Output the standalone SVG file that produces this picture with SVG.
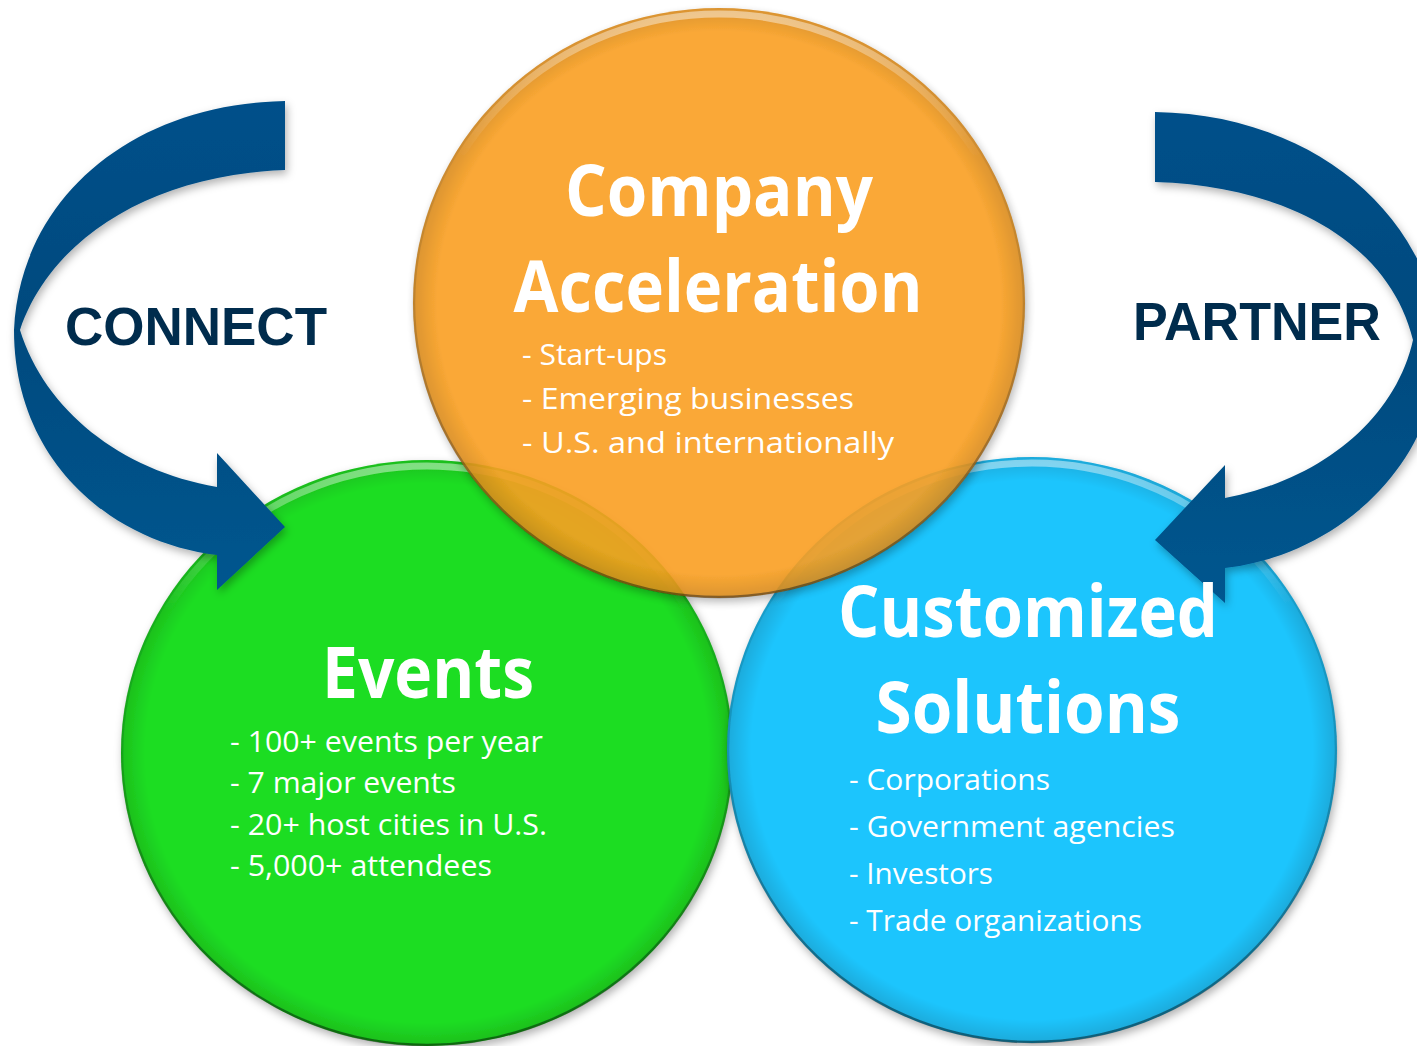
<svg xmlns="http://www.w3.org/2000/svg" width="1417" height="1046" viewBox="0 0 1417 1046">
<style>
.title{font-family:"Open Sans","Noto Sans",sans-serif;font-weight:700;font-size:72px;fill:#ffffff;text-anchor:middle}
.item{font-family:"Open Sans","Noto Sans",sans-serif;font-weight:400;font-size:29px;fill:#ffffff}
.verb{font-family:"Liberation Sans",Arial,sans-serif;font-weight:700;font-size:54px;fill:#002c4d}
.rimHi{fill:none;stroke:url(#hiGrad);stroke-width:7}
.rimDk{fill:none;stroke:url(#dkGrad);stroke-width:2.5}
.arrow{fill:url(#arrowGrad);filter:url(#shadow)}
</style>
<defs>
<filter id="shadow" x="-20%" y="-20%" width="140%" height="140%">
<feDropShadow dx="2" dy="4" stdDeviation="4" flood-color="#000" flood-opacity="0.3"/>
</filter>
<linearGradient id="hiGrad" x1="0" y1="0" x2="0" y2="1">
<stop offset="0" stop-color="#fff" stop-opacity="0.45"/>
<stop offset="0.25" stop-color="#fff" stop-opacity="0"/>
</linearGradient>
<linearGradient id="dkGrad" x1="0" y1="0" x2="0" y2="1">
<stop offset="0" stop-color="#000" stop-opacity="0"/>
<stop offset="0.5" stop-color="#000" stop-opacity="0.15"/>
<stop offset="1" stop-color="#000" stop-opacity="0.45"/>
</linearGradient>
<radialGradient id="edge" cx="0.5" cy="0.5" r="0.5">
<stop offset="0.92" stop-color="#000" stop-opacity="0"/>
<stop offset="1" stop-color="#000" stop-opacity="0.14"/>
</radialGradient>
<linearGradient id="arrowGrad" x1="0" y1="0" x2="0" y2="1">
<stop offset="0" stop-color="#00508a"/>
<stop offset="0.45" stop-color="#034a7e"/>
<stop offset="1" stop-color="#05568f"/>
</linearGradient>
</defs>

<g id="node-events" filter="url(#shadow)">
<ellipse cx="427" cy="753" rx="306" ry="293" fill="#1edd22"/>
<ellipse cx="427" cy="753" rx="306" ry="293" fill="url(#edge)"/>
<ellipse cx="427" cy="753" rx="300" ry="287" class="rimHi"/>
<ellipse cx="427" cy="753" rx="305" ry="292" class="rimDk"/>
</g>

<g id="node-solutions" filter="url(#shadow)">
<ellipse cx="1032" cy="750" rx="305" ry="293" fill="#1fc5fd"/>
<ellipse cx="1032" cy="750" rx="305" ry="293" fill="url(#edge)"/>
<ellipse cx="1032" cy="750" rx="299" ry="287" class="rimHi"/>
<ellipse cx="1032" cy="750" rx="304" ry="292" class="rimDk"/>
</g>

<g id="node-acceleration" opacity="0.9" filter="url(#shadow)">
<ellipse cx="719" cy="303" rx="306" ry="295" fill="#fa9f20"/>
<ellipse cx="719" cy="303" rx="306" ry="295" fill="url(#edge)"/>
<ellipse cx="719" cy="303" rx="300" ry="289" class="rimHi"/>
<ellipse cx="719" cy="303" rx="305" ry="294" class="rimDk"/>
</g>

<g id="connectors">
<path id="arrow-connect" class="arrow" d="M 285 101 C 130 104 20 200 14 330 C 14 460 110 542 217 555 L 217 590 L 285 527 L 217 453 L 217 487 C 120 470 45 410 20 330 C 50 240 150 175 285 170 Z"/>
<path id="arrow-partner" class="arrow" d="M 1155 112 C 1300 114 1420 200 1440 330 C 1445 460 1340 555 1225 568 L 1225 603 L 1155 540 L 1225 465 L 1225 498 C 1320 480 1395 420 1413 340 C 1390 245 1290 186 1155 182 Z"/>
</g>

<g id="labels-acceleration">
<text class="title" x="719" y="216" textLength="308" lengthAdjust="spacingAndGlyphs">Company</text>
<text class="title" x="718" y="312" textLength="409" lengthAdjust="spacingAndGlyphs">Acceleration</text>
<text class="item" x="522" y="365" textLength="145" lengthAdjust="spacingAndGlyphs">- Start-ups</text>
<text class="item" x="522" y="409" textLength="332" lengthAdjust="spacingAndGlyphs">- Emerging businesses</text>
<text class="item" x="522" y="453" textLength="372" lengthAdjust="spacingAndGlyphs">- U.S. and internationally</text>
</g>

<g id="labels-events">
<text class="title" x="428" y="698" textLength="212" lengthAdjust="spacingAndGlyphs">Events</text>
<text class="item" x="230" y="752" textLength="313" lengthAdjust="spacingAndGlyphs">- 100+ events per year</text>
<text class="item" x="230" y="793" textLength="226" lengthAdjust="spacingAndGlyphs">- 7 major events</text>
<text class="item" x="230" y="835" textLength="317" lengthAdjust="spacingAndGlyphs">- 20+ host cities in U.S.</text>
<text class="item" x="230" y="876" textLength="262" lengthAdjust="spacingAndGlyphs">- 5,000+ attendees</text>
</g>

<g id="labels-solutions">
<text class="title" x="1028" y="637" textLength="380" lengthAdjust="spacingAndGlyphs">Customized</text>
<text class="title" x="1028" y="733" textLength="305" lengthAdjust="spacingAndGlyphs">Solutions</text>
<text class="item" x="849" y="790" textLength="201" lengthAdjust="spacingAndGlyphs">- Corporations</text>
<text class="item" x="849" y="837" textLength="326" lengthAdjust="spacingAndGlyphs">- Government agencies</text>
<text class="item" x="849" y="884" textLength="144" lengthAdjust="spacingAndGlyphs">- Investors</text>
<text class="item" x="849" y="931" textLength="293" lengthAdjust="spacingAndGlyphs">- Trade organizations</text>
</g>

<g id="labels-verbs">
<text class="verb" x="65" y="345" textLength="262" lengthAdjust="spacingAndGlyphs">CONNECT</text>
<text class="verb" x="1133" y="340" textLength="248" lengthAdjust="spacingAndGlyphs">PARTNER</text>
</g>
</svg>
